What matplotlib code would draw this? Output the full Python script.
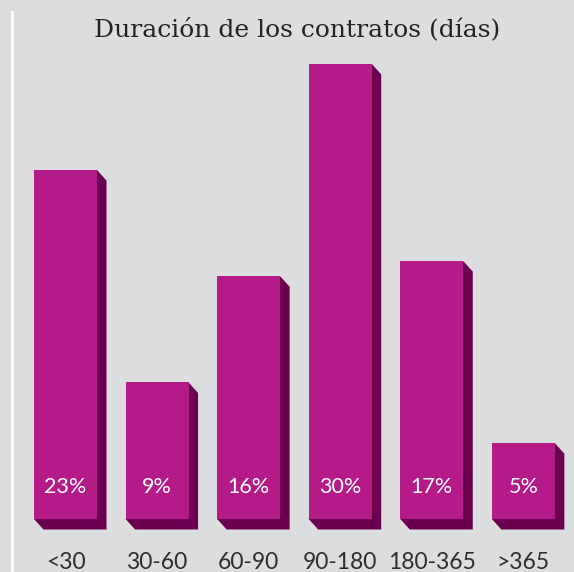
import matplotlib
matplotlib.use("Agg")
import matplotlib.pyplot as plt
from matplotlib.patches import Polygon
from matplotlib.lines import Line2D

categories = ["<30", "30-60", "60-90", "90-180", "180-365", ">365"]
values = [23, 9, 16, 30, 17, 5]
value_labels = ["23%", "9%", "16%", "30%", "17%", "5%"]
title = "Duración de los contratos (días)"

BG = "#dcdddf"
FRONT = "#b51a89"
SIDE = "#6c0050"

W, H = 574, 572
fig = plt.figure(figsize=(W / 100, H / 100), dpi=100, facecolor=BG)

base_px = 519
px_per_unit_y = 15.17
x0_px, px_per_unit_x = 65.5, 91.57

ax = fig.add_axes([0, (H - base_px) / H, 1, base_px / H])
ax.set_facecolor(BG)
ax.set_xlim(-x0_px / px_per_unit_x, (W - x0_px) / px_per_unit_x)
ax.set_ylim(0, base_px / px_per_unit_y)
for s in ax.spines.values():
    s.set_visible(False)
ax.set_yticks([])

bw = 63 / px_per_unit_x
dx = 9.5 / px_per_unit_x
dy = 10.5 / px_per_unit_y

for i, v in enumerate(values):
    xl = i - bw / 2
    xr = i + bw / 2
    side = Polygon([(xr, v), (xr + dx, v - dy), (xr + dx, -dy), (xl + dx, -dy), (xl, 0)],
                   closed=True, facecolor=SIDE, edgecolor="none", clip_on=False, zorder=2)
    ax.add_patch(side)
ax.bar(range(len(values)), values, width=bw, color=FRONT, zorder=3)

for i, lab in enumerate(value_labels):
    ax.text(i, 32 / px_per_unit_y, lab, color="white", ha="center", va="center",
            fontsize=15.5, family="Lato", zorder=4)

ax.set_xticks(range(len(categories)))
ax.set_xticklabels(categories, fontsize=16.5, family="Lato", color="#2e2e2e")
ax.tick_params(axis="x", length=0, pad=24)

fig.text(297 / W, 1 - 29 / H, title, ha="center", va="center", fontsize=18,
         family="DejaVu Serif", color="#222222")

fig.add_artist(Line2D([12 / W, 12 / W], [0, 1 - 12 / H], color="white", lw=2,
                      transform=fig.transFigure))

fig.savefig("out.png", dpi=100, facecolor=BG)
